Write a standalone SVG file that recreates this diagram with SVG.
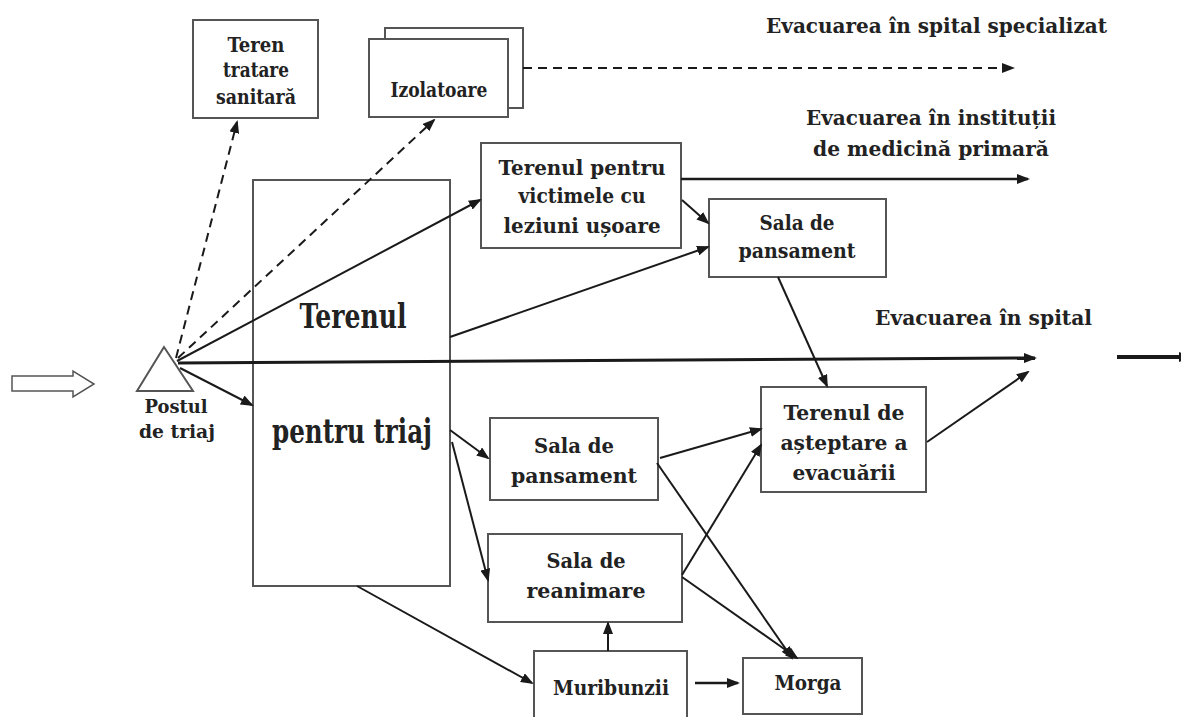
<svg xmlns="http://www.w3.org/2000/svg" width="1181" height="717" viewBox="0 0 1181 717">
<style>
.box{fill:#fff;stroke:#555;stroke-width:2}
.t{font-family:"DejaVu Serif","Liberation Serif",serif;font-weight:bold;font-size:20px;fill:#222;text-anchor:middle}
.lbl{font-size:21px}
.big{font-size:33px}
.sm{font-size:19px}
.ln{fill:none;stroke:#1a1a1a;stroke-width:2;marker-end:url(#ah)}
.dash{stroke-dasharray:9 6}
</style>
<defs>
<marker id="ah" markerUnits="userSpaceOnUse" markerWidth="13" markerHeight="10" refX="11" refY="5" orient="auto">
<path d="M0,0 L13,5 L0,10 z" fill="#1a1a1a"/>
</marker>
</defs>
<rect width="1181" height="717" fill="#fff"/>

<g id="entry-arrow">
<polygon points="12,376 73,376 73,371 94,384 73,397 73,391 12,391" fill="#fff" stroke="#555" stroke-width="1.5"/>
</g>

<g id="postul-triaj">
<polygon points="164,347 137,391 193,391" fill="#fff" stroke="#555" stroke-width="2"/>
<text class="t sm" x="176" y="413" textLength="63" lengthAdjust="spacingAndGlyphs">Postul</text>
<text class="t sm" x="177" y="438" textLength="76" lengthAdjust="spacingAndGlyphs">de triaj</text>
</g>

<g id="teren-tratare">
<rect class="box" x="193" y="20" width="125" height="98"/>
<text class="t" x="256" y="52" textLength="57" lengthAdjust="spacingAndGlyphs">Teren</text>
<text class="t" x="256" y="77" textLength="66" lengthAdjust="spacingAndGlyphs">tratare</text>
<text class="t" x="256" y="104" textLength="80" lengthAdjust="spacingAndGlyphs">sanitară</text>
</g>

<g id="izolatoare">
<rect class="box" x="385" y="28" width="138" height="80"/>
<rect class="box" x="369" y="39" width="139" height="78"/>
<text class="t" x="439" y="97" textLength="97" lengthAdjust="spacingAndGlyphs">Izolatoare</text>
</g>

<g id="label-spec">
<text class="t lbl" x="766" y="33" style="text-anchor:start" textLength="341" lengthAdjust="spacingAndGlyphs">Evacuarea în spital specializat</text>
</g>
<g id="label-inst">
<text class="t lbl" x="931" y="125" textLength="250" lengthAdjust="spacingAndGlyphs">Evacuarea în instituții</text>
<text class="t lbl" x="931" y="156" textLength="236" lengthAdjust="spacingAndGlyphs">de medicină primară</text>
</g>
<g id="label-spital">
<text class="t lbl" x="875" y="325" style="text-anchor:start" textLength="217" lengthAdjust="spacingAndGlyphs">Evacuarea în spital</text>
</g>

<g id="terenul-victime">
<rect class="box" x="481" y="143" width="200" height="105"/>
<text class="t" x="582" y="175" textLength="167" lengthAdjust="spacingAndGlyphs">Terenul pentru</text>
<text class="t" x="582" y="203" textLength="127" lengthAdjust="spacingAndGlyphs">victimele cu</text>
<text class="t" x="582" y="233" textLength="157" lengthAdjust="spacingAndGlyphs">leziuni ușoare</text>
</g>

<g id="sala-pansament-1">
<rect class="box" x="709" y="199" width="177" height="78"/>
<text class="t" x="797" y="230" textLength="75" lengthAdjust="spacingAndGlyphs">Sala de</text>
<text class="t" x="797" y="258" textLength="117" lengthAdjust="spacingAndGlyphs">pansament</text>
</g>

<g id="terenul-triaj">
<rect class="box" x="253" y="180" width="197" height="406" style="fill:none"/>
<text class="t big" x="353" y="328" textLength="107" lengthAdjust="spacingAndGlyphs">Terenul</text>
<text class="t big" x="352" y="443" textLength="160" lengthAdjust="spacingAndGlyphs">pentru triaj</text>
</g>

<g id="terenul-asteptare">
<rect class="box" x="761" y="387" width="165" height="105"/>
<text class="t" x="844" y="420" textLength="121" lengthAdjust="spacingAndGlyphs">Terenul de</text>
<text class="t" x="844" y="450" textLength="127" lengthAdjust="spacingAndGlyphs">așteptare a</text>
<text class="t" x="844" y="480" textLength="103" lengthAdjust="spacingAndGlyphs">evacuării</text>
</g>

<g id="sala-pansament-2">
<rect class="box" x="490" y="418" width="168" height="82"/>
<text class="t" x="574" y="453" textLength="80" lengthAdjust="spacingAndGlyphs">Sala de</text>
<text class="t" x="574" y="483" textLength="126" lengthAdjust="spacingAndGlyphs">pansament</text>
</g>

<g id="sala-reanimare">
<rect class="box" x="488" y="534" width="194" height="88"/>
<text class="t" x="586" y="568" textLength="79" lengthAdjust="spacingAndGlyphs">Sala de</text>
<text class="t" x="586" y="598" textLength="119" lengthAdjust="spacingAndGlyphs">reanimare</text>
</g>

<g id="muribunzii">
<rect class="box" x="534" y="651" width="153" height="80"/>
<text class="t" x="611" y="695" textLength="116" lengthAdjust="spacingAndGlyphs">Muribunzii</text>
</g>

<g id="morga">
<rect class="box" x="743" y="658" width="119" height="56"/>
<text class="t" x="808" y="690" textLength="67" lengthAdjust="spacingAndGlyphs">Morga</text>
</g>

<g id="connectors">
<line class="ln dash" x1="176" y1="358" x2="237" y2="122"/>
<line class="ln dash" x1="178" y1="358" x2="434" y2="120"/>
<line class="ln dash" x1="523" y1="68" x2="1013" y2="68"/>
<line class="ln" x1="177" y1="361" x2="480" y2="200"/>
<line class="ln" x1="178" y1="363" x2="1035" y2="358" style="stroke-width:3"/>
<line class="ln" x1="180" y1="368" x2="252" y2="405"/>
<line class="ln" x1="681" y1="179" x2="1028" y2="179" style="stroke-width:2.5"/>
<line class="ln" x1="682" y1="200" x2="708" y2="223"/>
<line class="ln" x1="450" y1="337" x2="708" y2="247"/>
<line class="ln" x1="778" y1="277" x2="827" y2="386"/>
<line class="ln" x1="927" y1="442" x2="1028" y2="372"/>
<line class="ln" x1="450" y1="430" x2="488" y2="458"/>
<line class="ln" x1="452" y1="442" x2="488" y2="580"/>
<line class="ln" x1="660" y1="458" x2="761" y2="429"/>
<line class="ln" x1="657" y1="463" x2="792" y2="658"/>
<line class="ln" x1="682" y1="575" x2="761" y2="445"/>
<line class="ln" x1="682" y1="577" x2="797" y2="658"/>
<line class="ln" x1="357" y1="586" x2="532" y2="683"/>
<line class="ln" x1="608" y1="651" x2="608" y2="623"/>
<line class="ln" x1="695" y1="683" x2="738" y2="683" style="stroke-width:2.5"/>
<line class="ln" x1="1117" y1="357" x2="1190" y2="357" style="stroke-width:4"/>
</g>
</svg>
